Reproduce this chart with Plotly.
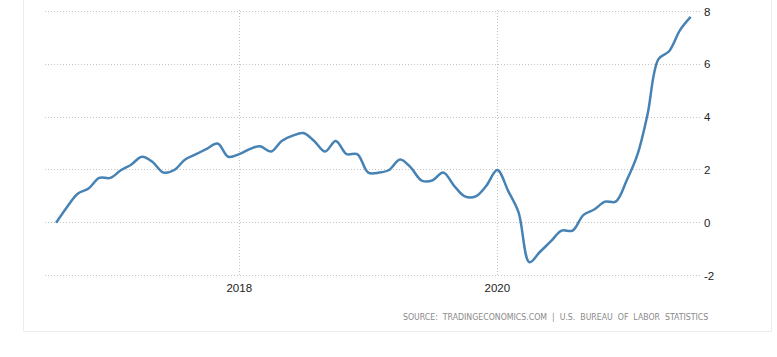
import pandas as pd
import plotly.graph_objects as go

# Monthly data, Aug 2016 .. Jul 2021 (YoY %)
start_month = "2016-08-01"
values = [0.0, 0.6, 1.1, 1.3, 1.7, 1.7, 2.0, 2.2, 2.5, 2.3, 1.9, 2.0,
          2.4, 2.6, 2.8, 3.0, 2.5, 2.6, 2.8, 2.9, 2.7, 3.1, 3.3, 3.4,
          3.1, 2.7, 3.1, 2.6, 2.6, 1.9, 1.9, 2.0, 2.4, 2.1, 1.6, 1.6,
          1.9, 1.4, 1.0, 1.0, 1.4, 2.0, 1.2, 0.4, -1.5, -1.1, -0.7, -0.3,
          -0.3, 0.3, 0.5, 0.8, 0.8, 1.6, 2.6, 4.1, 6.2, 6.5, 7.3, 7.8]
months = pd.date_range(start_month, periods=len(values), freq="MS")

x_tickvals = ["2018-01-01", "2020-01-01"]
x_ticktext = ["2018", "2020"]
y_tickvals = [-2, 0, 2, 4, 6, 8]
y_ticktext = ["-2", "0", "2", "4", "6", "8"]
source_text = "SOURCE:  TRADINGECONOMICS.COM  |  U.S.  BUREAU  OF  LABOR  STATISTICS"

W, H = 777, 357
L, R, T, B = 45, 77, 10, 80
PW, PH = W - L - R, H - T - B

def px2x(px):
    return (px - L) / PW

def px2y(py):
    return (H - B - py) / PH

fig = go.Figure()
fig.add_trace(go.Scatter(
    x=months, y=values, mode="lines",
    line=dict(color="#4682B4", width=2.5, shape="spline", smoothing=1),
    hoverinfo="skip", showlegend=False,
))

grid_col = "#c4c4c4"
fig.update_layout(
    width=W, height=H,
    margin=dict(l=L, r=R, t=T, b=B, autoexpand=False),
    paper_bgcolor="white", plot_bgcolor="white",
    font=dict(family="Liberation Sans, Arial, sans-serif", size=11, color="#222"),
    xaxis=dict(
        type="date", automargin=False,
        range=["2016-06-30 12:00", "2021-07-27 12:00"],
        tickmode="array", tickvals=x_tickvals, ticktext=x_ticktext,
        showgrid=True, gridcolor=grid_col, griddash="1px,2px", gridwidth=1,
        showline=False, zeroline=False, ticks="", ticklabelstandoff=2,
        tickfont=dict(size=11.5, color="#222"),
    ),
    yaxis=dict(
        side="right", automargin=False,
        range=[-2.057, 8.064],
        tickmode="array", tickvals=y_tickvals, ticktext=y_ticktext,
        showgrid=True, gridcolor=grid_col, griddash="1px,2px", gridwidth=1,
        showline=False, zeroline=False, ticks="", ticklabelstandoff=3,
        ticklabeloverflow="allow",
        tickfont=dict(size=11.5, color="#222"),
    ),
    shapes=[
        dict(type="line", xref="paper", yref="paper", layer="below",
             x0=px2x(23.5), x1=px2x(23.5), y0=px2y(0), y1=px2y(331.5),
             line=dict(color="#ececec", width=1)),
        dict(type="line", xref="paper", yref="paper", layer="below",
             x0=px2x(23.5), x1=px2x(771.5), y0=px2y(331.5), y1=px2y(331.5),
             line=dict(color="#ececec", width=1)),
        dict(type="line", xref="paper", yref="paper", layer="below",
             x0=px2x(771.5), x1=px2x(771.5), y0=px2y(0), y1=px2y(331.5),
             line=dict(color="#ececec", width=1)),
    ],
    annotations=[
        dict(text=source_text, xref="paper", yref="paper",
             x=px2x(710), y=px2y(317), xanchor="right", yanchor="middle",
             showarrow=False,
             font=dict(family="Liberation Sans Narrow, DejaVu Sans Condensed, Arial Narrow, sans-serif",
                       size=8.7, color="#8a8a8a")),
    ],
)

fig.write_html(
    "out.html",
    config={"displayModeBar": False},
    post_script="document.body.style.margin='0';document.body.style.overflow='hidden';",
)
